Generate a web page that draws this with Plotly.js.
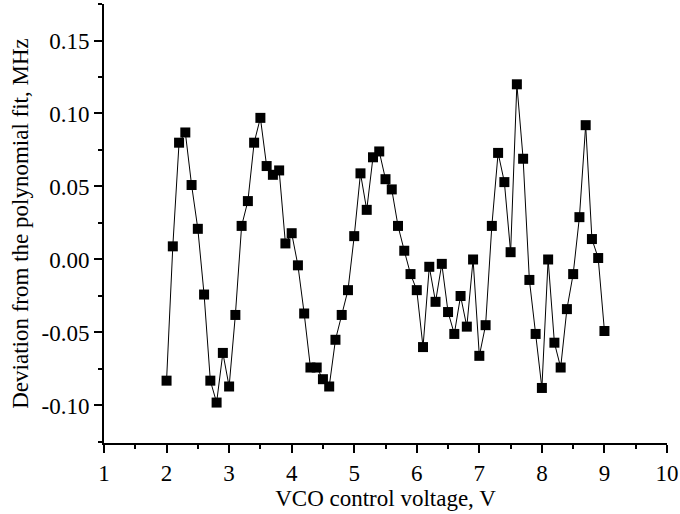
<!DOCTYPE html>
<html><head><meta charset="utf-8">
<script src="https://cdn.plot.ly/plotly-3.0.1.min.js"></script>
<style>html,body{margin:0;padding:0;background:#fff}#chart{width:680px;height:514px}</style>
</head><body><div id="chart"></div>
<script>
const voltage = [2.0,2.1,2.2,2.3,2.4,2.5,2.6,2.7,2.8,2.9,3.0,3.1,3.2,3.3,3.4,3.5,3.6,3.7,3.8,3.9,4.0,4.1,4.2,4.3,4.4,4.5,4.6,4.7,4.8,4.9,5.0,5.1,5.2,5.3,5.4,5.5,5.6,5.7,5.8,5.9,6.0,6.1,6.2,6.3,6.4,6.5,6.6,6.7,6.8,6.9,7.0,7.1,7.2,7.3,7.4,7.5,7.6,7.7,7.8,7.9,8.0,8.1,8.2,8.3,8.4,8.5,8.6,8.7,8.8,8.9,9.0];
const deviation = [-0.083,0.009,0.080,0.087,0.051,0.021,-0.024,-0.083,-0.098,-0.064,-0.087,-0.038,0.023,0.040,0.080,0.097,0.064,0.058,0.061,0.011,0.018,-0.004,-0.037,-0.074,-0.074,-0.082,-0.087,-0.055,-0.038,-0.021,0.016,0.059,0.034,0.070,0.074,0.055,0.048,0.023,0.006,-0.010,-0.021,-0.060,-0.005,-0.029,-0.003,-0.036,-0.051,-0.025,-0.046,0.000,-0.066,-0.045,0.023,0.073,0.053,0.005,0.120,0.069,-0.014,-0.051,-0.088,0.000,-0.057,-0.074,-0.034,-0.010,0.029,0.092,0.014,0.001,-0.049];
const xTicks = [1,2,3,4,5,6,7,8,9,10];
const yTicks = [-0.10,-0.05,0.00,0.05,0.10,0.15];
const yTickText = ["-0.10","-0.05","0.00","0.05","0.10","0.15"];

const font = {family: '"Liberation Serif", "Times New Roman", serif', color: '#000'};
Plotly.newPlot('chart', [{
  x: voltage, y: deviation, type: 'scatter', mode: 'lines+markers',
  line: {color: '#000', width: 1},
  marker: {symbol: 'square', size: 10, color: '#000', line: {width: 0}}
}], {
  width: 680, height: 514,
  margin: {l: 104, r: 13, t: 4, b: 71},
  paper_bgcolor: '#fff', plot_bgcolor: '#fff',
  showlegend: false,
  font: Object.assign({size: 23}, font),
  xaxis: {
    range: [1, 10], tickvals: xTicks, ticktext: xTicks.map(String),
    showgrid: false, zeroline: false, showline: true, linecolor: '#000', linewidth: 2,
    ticks: 'outside', ticklen: 8, tickwidth: 2, tickcolor: '#000',
    minor: {dtick: 0.5, ticks: 'outside', ticklen: 4, tickwidth: 2, tickcolor: '#000', showgrid: false},
    tickfont: Object.assign({size: 23}, font),
    automargin: false,
    title: {text: 'VCO control voltage, V', font: Object.assign({size: 23}, font), standoff: 4}
  },
  yaxis: {
    range: [-0.1257, 0.175], tickvals: yTicks, ticktext: yTickText,
    showgrid: false, zeroline: false, showline: true, linecolor: '#000', linewidth: 2,
    ticks: 'outside', ticklen: 8, tickwidth: 2, tickcolor: '#000',
    minor: {tickvals: [-0.125,-0.075,-0.025,0.025,0.075,0.125,0.175], ticks: 'outside', ticklen: 4, tickwidth: 2, tickcolor: '#000', showgrid: false},
    tickfont: Object.assign({size: 23}, font),
    automargin: false,
    title: {text: 'Deviation from the polynomial fit, MHz', font: Object.assign({size: 23}, font), standoff: 6}
  }
}, {staticPlot: true, displayModeBar: false});
</script>
</body></html>
